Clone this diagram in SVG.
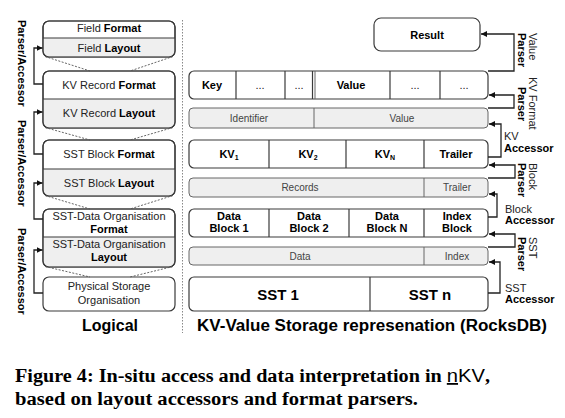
<svg xmlns="http://www.w3.org/2000/svg" width="565" height="418" viewBox="0 0 565 418">
<defs>
<marker id="ah" viewBox="0 0 10 10" refX="10" refY="5" markerWidth="6" markerHeight="6" markerUnits="userSpaceOnUse" orient="auto"><path d="M0,0 L10,5 L0,10 z" fill="#111"/></marker>
<style>
text{font-family:"Liberation Sans",Arial,sans-serif;fill:#222}
.t{font-size:11px;text-anchor:middle}
.b{font-weight:bold;fill:#000}
.s{font-size:10px;text-anchor:middle;fill:#444}
.box{fill:#fff;stroke:#3a3a3a;stroke-width:1.2}
.edge{fill:none;stroke:#3a3a3a;stroke-width:1.2}
.lay{fill:#efefef;stroke:none}
.grow{fill:#efefef;stroke:#666;stroke-width:1}
.div{stroke:#3a3a3a;stroke-width:1.2}
.gdiv{stroke:#666;stroke-width:1}
.dash{stroke:#555;stroke-width:0.9;stroke-dasharray:2,1.5;fill:none}
.con{fill:none;stroke:#222;stroke-width:1.3;marker-end:url(#ah)}
.rl{font-size:11px}
.big{font-size:16px;font-weight:bold;fill:#000}
.cap{font-family:"Liberation Serif","Times New Roman",serif;font-size:18px;font-weight:bold;fill:#000}
</style>
</defs>

<rect x="0" y="0" width="565" height="418" fill="#fff"/>

<!-- Left logical stack -->
<g id="field">
<rect class="box" x="43" y="21" width="132" height="36" rx="6"/>
<path class="lay" d="M43.6,38 H174.4 V51 Q174.4,56.4 169,56.4 H49 Q43.6,56.4 43.6,51 Z"/>
<line class="div" x1="43" y1="38" x2="175" y2="38"/>
<rect class="edge" x="43" y="21" width="132" height="36" rx="6"/>
<text class="t" x="109" y="32">Field <tspan class="b">Format</tspan></text>
<text class="t" x="109" y="51.5">Field <tspan class="b">Layout</tspan></text>
</g>
<g id="kvrecord">
<rect class="box" x="43" y="71" width="132" height="57" rx="6"/>
<path class="lay" d="M43.6,99 H174.4 V122 Q174.4,127.4 169,127.4 H49 Q43.6,127.4 43.6,122 Z"/>
<line class="div" x1="43" y1="99" x2="175" y2="99"/>
<rect class="edge" x="43" y="71" width="132" height="57" rx="6"/>
<text class="t" x="109" y="89">KV Record <tspan class="b">Format</tspan></text>
<text class="t" x="109" y="117">KV Record <tspan class="b">Layout</tspan></text>
</g>
<g id="sstblock">
<rect class="box" x="43" y="140" width="132" height="56" rx="6"/>
<path class="lay" d="M43.6,169 H174.4 V190 Q174.4,195.4 169,195.4 H49 Q43.6,195.4 43.6,190 Z"/>
<line class="div" x1="43" y1="169" x2="175" y2="169"/>
<rect class="edge" x="43" y="140" width="132" height="56" rx="6"/>
<text class="t" x="109" y="158">SST Block  <tspan class="b">Format</tspan></text>
<text class="t" x="109" y="187">SST Block <tspan class="b">Layout</tspan></text>
</g>
<g id="sstdata">
<rect class="box" x="43" y="209" width="132" height="58" rx="6"/>
<path class="lay" d="M43.6,237 H174.4 V261 Q174.4,266.4 169,266.4 H49 Q43.6,266.4 43.6,261 Z"/>
<line class="div" x1="43" y1="237" x2="175" y2="237"/>
<rect class="edge" x="43" y="209" width="132" height="58" rx="6"/>
<text class="t" x="109" y="220">SST-Data Organisation</text>
<text class="t b" x="109" y="233">Format</text>
<text class="t" x="109" y="247.5">SST-Data Organisation</text>
<text class="t b" x="109" y="261">Layout</text>
</g>
<g id="physical">
<rect class="box" x="43" y="277" width="132" height="34" rx="6"/>
<text class="t" x="109" y="290">Physical Storage</text>
<text class="t" x="109" y="304">Organisation</text>
</g>
<g id="trapezoids">
<path class="dash" d="M45,56.5 L90,71 M173,56.5 L130,71"/>
<path class="dash" d="M45,127.5 L90,140 M173,127.5 L130,140"/>
<path class="dash" d="M45,195.5 L90,209 M173,195.5 L130,209"/>
<path class="dash" d="M45,266.5 L90,277 M173,266.5 L130,277"/>
</g>
<g id="left-labels">
<text class="rl b" transform="translate(18,20) rotate(90)">Parser/Accessor</text>
<text class="rl b" transform="translate(18,120) rotate(90)">Parser/Accessor</text>
<text class="rl b" transform="translate(18,228) rotate(90)">Parser/Accessor</text>
</g>
<text class="big" x="110" y="331" text-anchor="middle">Logical</text>

<line x1="182.5" y1="20" x2="182.5" y2="333" stroke="#888" stroke-width="1" stroke-dasharray="1.5,1.5"/>

<!-- Right storage representation -->
<g id="result">
<rect class="box" x="374" y="18" width="106" height="33" rx="7"/>
<text class="t b" x="427" y="38.5">Result</text>
</g>
<g id="kvformat">
<rect class="box" x="189" y="71" width="299" height="28" rx="5"/>
<line class="div" x1="236" y1="71" x2="236" y2="99"/>
<line class="div" x1="285" y1="71" x2="285" y2="99"/>
<line class="div" x1="312.5" y1="71" x2="312.5" y2="99"/>
<line class="gdiv" x1="315" y1="71" x2="315" y2="99"/>
<line class="div" x1="390" y1="71" x2="390" y2="99"/>
<line class="div" x1="440" y1="71" x2="440" y2="99"/>
<text class="t b" x="212" y="89">Key</text>
<text class="t" x="260" y="89">...</text>
<text class="t" x="299" y="89">...</text>
<text class="t b" x="351" y="89">Value</text>
<text class="t" x="415" y="89">...</text>
<text class="t" x="464" y="89">...</text>
</g>
<g id="kvlayout">
<rect class="grow" x="189" y="108" width="299" height="20" rx="4"/>
<line class="gdiv" x1="314" y1="108" x2="314" y2="128"/>
<text class="s" x="249" y="121.5">Identifier</text>
<text class="s" x="402" y="121.5">Value</text>
</g>
<g id="blockformat">
<rect class="box" x="189" y="140" width="299" height="28" rx="5"/>
<line class="div" x1="269" y1="140" x2="269" y2="168"/>
<line class="div" x1="346" y1="140" x2="346" y2="168"/>
<line class="div" x1="424" y1="140" x2="424" y2="168"/>
<text class="t b" x="229" y="158">KV<tspan font-size="7" dy="2">1</tspan></text>
<text class="t b" x="308" y="158">KV<tspan font-size="7" dy="2">2</tspan></text>
<text class="t b" x="385" y="158">KV<tspan font-size="7" dy="2">N</tspan></text>
<text class="t b" x="456" y="158">Trailer</text>
</g>
<g id="blocklayout">
<rect class="grow" x="189" y="178" width="299" height="19" rx="4"/>
<line class="gdiv" x1="424" y1="178" x2="424" y2="197"/>
<text class="s" x="300" y="191">Records</text>
<text class="s" x="457" y="191">Trailer</text>
</g>
<g id="sstformat">
<rect class="box" x="189" y="209" width="299" height="28" rx="5"/>
<line class="div" x1="269" y1="209" x2="269" y2="237"/>
<line class="div" x1="349" y1="209" x2="349" y2="237"/>
<line class="div" x1="424" y1="209" x2="424" y2="237"/>
<text class="t b" x="229" y="220">Data</text>
<text class="t b" x="229" y="232">Block 1</text>
<text class="t b" x="309" y="220">Data</text>
<text class="t b" x="309" y="232">Block 2</text>
<text class="t b" x="387" y="220">Data</text>
<text class="t b" x="387" y="232">Block N</text>
<text class="t b" x="457" y="220">Index</text>
<text class="t b" x="457" y="232">Block</text>
</g>
<g id="sstlayout">
<rect class="grow" x="189" y="247" width="299" height="18" rx="4"/>
<line class="gdiv" x1="424" y1="247" x2="424" y2="265"/>
<text class="s" x="300" y="259.5">Data</text>
<text class="s" x="457" y="259.5">Index</text>
</g>
<g id="sstfiles">
<rect class="box" x="189" y="277" width="299" height="34" rx="5"/>
<line class="div" x1="370" y1="277" x2="370" y2="311"/>
<text class="b" x="278" y="299.5" font-size="15" text-anchor="middle">SST 1</text>
<text class="b" x="430" y="299.5" font-size="15" text-anchor="middle">SST n</text>
</g>
<text class="big" x="197" y="331" textLength="350" lengthAdjust="spacingAndGlyphs">KV-Value Storage represenation (RocksDB)</text>

<g id="connectors">
<path class="con" d="M43,84 H34 V48 H42.5"/>
<path class="con" d="M43,154 H34 V112 H42.5"/>
<path class="con" d="M43,219 H34 V183 H42.5"/>
<path class="con" d="M43,293 H34 V250 H42.5"/>
<path class="con" d="M488,71 H514 V34 H481"/>
<path class="con" d="M488,108 H514 V95 H489"/>
<path class="con" d="M488,157 H501 V124 H489"/>
<path class="con" d="M488,178 H515 V165 H489"/>
<path class="con" d="M488,217 H497 V194 H489"/>
<path class="con" d="M488,247 H515 V234 H489"/>
<path class="con" d="M488,293 H500 V262 H489"/>
</g>

<g id="right-labels">
<text class="rl" transform="translate(529,33) rotate(90)">Value</text>
<text class="rl b" transform="translate(518,33) rotate(90)">Parser</text>
<text class="rl" transform="translate(529,77) rotate(90)">KV Format</text>
<text class="rl b" transform="translate(518,87) rotate(90)">Parser</text>
<text class="rl" x="504" y="140">KV</text>
<text class="rl b" x="504" y="151.5">Accessor</text>
<text class="rl" transform="translate(529,163) rotate(90)">Block</text>
<text class="rl b" transform="translate(518,163) rotate(90)">Parser</text>
<text class="rl" x="505" y="213">Block</text>
<text class="rl b" x="505" y="223.5">Accessor</text>
<text class="rl" transform="translate(529,237) rotate(90)">SST</text>
<text class="rl b" transform="translate(518,237) rotate(90)">Parser</text>
<text class="rl" x="505" y="292">SST</text>
<text class="rl b" x="505" y="302.5">Accessor</text>
</g>

<g id="caption">
<text class="cap" x="15" y="382" textLength="475" lengthAdjust="spacingAndGlyphs">Figure 4: In-situ access and data interpretation in <tspan font-family="Liberation Sans, Arial, sans-serif" font-weight="normal"><tspan text-decoration="underline">n</tspan>KV</tspan>,</text>
<text class="cap" x="15" y="405" textLength="403" lengthAdjust="spacingAndGlyphs">based on layout accessors and format parsers.</text>
</g>
</svg>
